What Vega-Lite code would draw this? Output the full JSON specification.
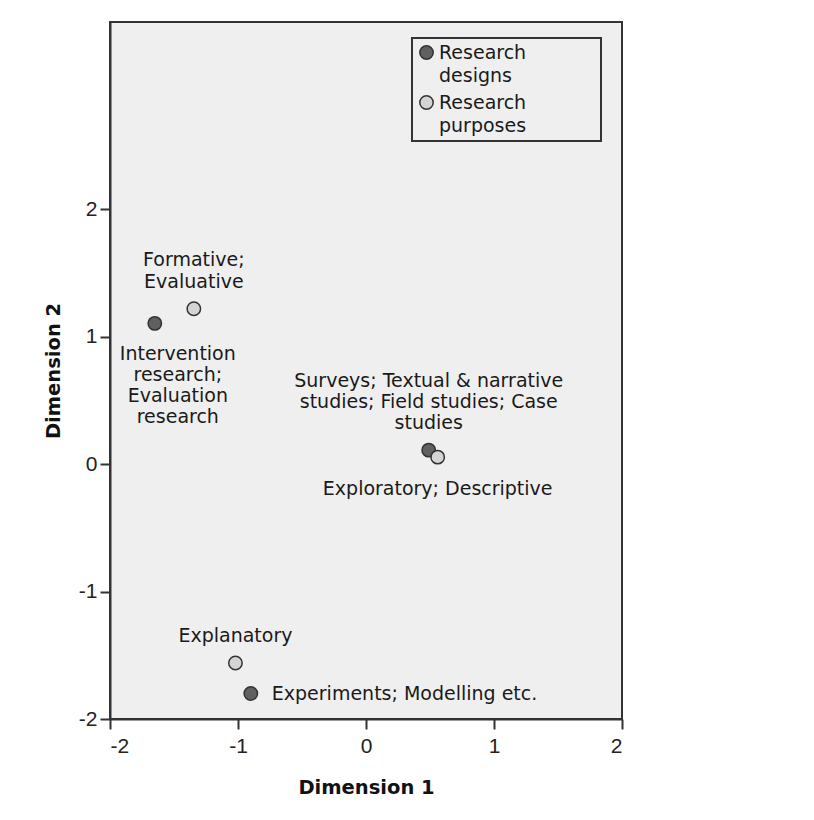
{
  "$schema": "https://vega.github.io/schema/vega-lite/v6.json",
  "width": 512,
  "height": 697,
  "autosize": "none",
  "padding": {"left": 110, "top": 22, "right": 192, "bottom": 101},
  "background": "#ffffff",
  "config": {
    "view": {"fill": "#efefef", "stroke": "#333333", "strokeWidth": 2},
    "font": "DejaVu Sans",
    "axis": {
      "domainColor": "#333333", "domainWidth": 2,
      "tickColor": "#333333", "tickWidth": 2, "tickSize": 10,
      "grid": false,
      "labelFont": "Liberation Sans", "labelFontSize": 21, "labelColor": "#222222",
      "labelExpr": "toString(datum.value)",
      "titleFont": "DejaVu Sans", "titleFontSize": 19.5, "titleFontWeight": "bold", "titleColor": "#111111"
    }
  },
  "data": {
    "values": [
      {"name": "Intervention", "type": "Research designs", "dim1": -1.65, "dim2": 1.105, "label": "Intervention\nresearch;\nEvaluation\nresearch"},
      {"name": "Surveys", "type": "Research designs", "dim1": 0.49, "dim2": 0.11, "label": "Surveys; Textual & narrative\nstudies; Field studies; Case\nstudies"},
      {"name": "Experiments", "type": "Research designs", "dim1": -0.9, "dim2": -1.80, "label": "Experiments; Modelling etc."},
      {"name": "Formative", "type": "Research purposes", "dim1": -1.345, "dim2": 1.22, "label": "Formative;\nEvaluative"},
      {"name": "Exploratory", "type": "Research purposes", "dim1": 0.56, "dim2": 0.055, "label": "Exploratory; Descriptive"},
      {"name": "Explanatory", "type": "Research purposes", "dim1": -1.02, "dim2": -1.56, "label": "Explanatory"}
    ]
  },
  "encoding": {
    "x": {"field": "dim1", "type": "quantitative", "title": "Dimension 1",
      "scale": {"domain": [-2, 2], "nice": false, "zero": false},
      "axis": {"values": [-2, -1, 0, 1, 2], "labelPadding": 6, "titlePadding": 22}},
    "y": {"field": "dim2", "type": "quantitative", "title": "Dimension 2",
      "scale": {"domain": [-2, 3.47], "nice": false, "zero": false},
      "axis": {"values": [-2, -1, 0, 1, 2], "labelPadding": 3, "titlePadding": 15}}
  },
  "layer": [
    {
      "mark": {"type": "point", "filled": true, "shape": "circle", "size": 180, "stroke": "#333333", "strokeWidth": 1.5, "opacity": 1},
      "encoding": {
        "color": {"field": "type", "type": "nominal",
          "scale": {"domain": ["Research designs", "Research purposes"], "range": ["#606060", "#d4d4d4"]},
          "legend": {
            "title": null, "orient": "none", "legendX": 302, "legendY": 16,
            "padding": 5, "strokeColor": "#333333", "fillColor": "#efefef",
            "symbolType": "circle", "symbolSize": 180, "symbolStrokeColor": "#333333", "symbolStrokeWidth": 1.5, "symbolOpacity": 1,
            "labelFont": "DejaVu Sans", "labelFontSize": 19, "labelColor": "#1a1a1a", "labelLimit": 400, "labelOffset": 3,
            "rowPadding": 6,
            "labelExpr": "[split(datum.label, ' ')[0], split(datum.label, ' ')[1] + '\u2800\u2800\u2800\u2800\u2800']",
            "encode": {
              "legend": {"update": {"strokeWidth": {"value": 2}}},
              "labels": {"update": {"lineHeight": {"value": 23}}}
            }
          }
        }
      }
    },
    {
      "transform": [{"filter": "datum.name == 'Explanatory'"}],
      "mark": {"type": "text", "align": "center", "baseline": "bottom", "dy": -17, "fontSize": 19, "font": "DejaVu Sans", "color": "#1a1a1a"},
      "encoding": {"text": {"field": "label"}}
    },
    {
      "transform": [{"filter": "datum.name == 'Formative'"}],
      "mark": {"type": "text", "align": "center", "baseline": "bottom", "dy": -39, "lineBreak": "\n", "lineHeight": 22, "fontSize": 19, "font": "DejaVu Sans", "color": "#1a1a1a"},
      "encoding": {"text": {"field": "label"}}
    },
    {
      "transform": [{"filter": "datum.name == 'Surveys'"}],
      "mark": {"type": "text", "align": "center", "baseline": "bottom", "dy": -59, "lineBreak": "\n", "lineHeight": 21, "fontSize": 19, "font": "DejaVu Sans", "color": "#1a1a1a"},
      "encoding": {"text": {"field": "label"}}
    },
    {
      "transform": [{"filter": "datum.name == 'Exploratory'"}],
      "mark": {"type": "text", "align": "center", "baseline": "top", "dy": 23, "fontSize": 19, "font": "DejaVu Sans", "color": "#1a1a1a"},
      "encoding": {"text": {"field": "label"}}
    },
    {
      "transform": [{"filter": "datum.name == 'Intervention'"}],
      "mark": {"type": "text", "align": "center", "baseline": "top", "dx": 23, "dy": 22, "lineBreak": "\n", "lineHeight": 21, "fontSize": 19, "font": "DejaVu Sans", "color": "#1a1a1a"},
      "encoding": {"text": {"field": "label"}}
    },
    {
      "transform": [{"filter": "datum.name == 'Experiments'"}],
      "mark": {"type": "text", "align": "left", "baseline": "middle", "dx": 21, "dy": 0, "fontSize": 19, "font": "DejaVu Sans", "color": "#1a1a1a"},
      "encoding": {"text": {"field": "label"}}
    }
  ]
}
